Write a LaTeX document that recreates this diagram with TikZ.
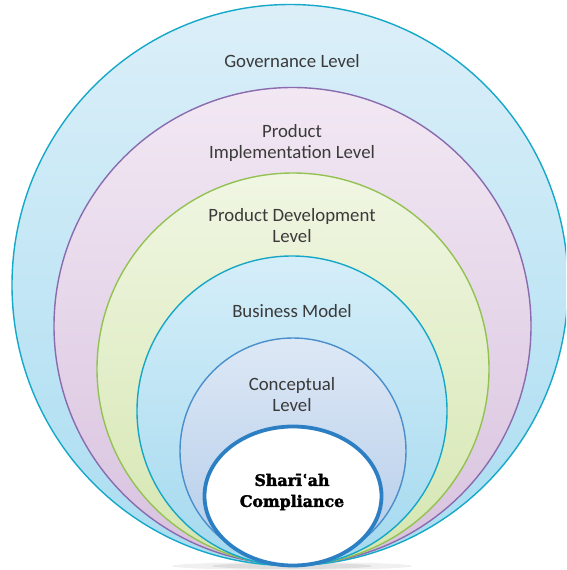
\documentclass[tikz,border=0pt]{standalone}
\usepackage{fontspec}
\setmainfont{Carlito}
\newfontfamily\shfont{DejaVu Serif}[BoldFeatures={FakeBold=2.2}]
\usetikzlibrary{shapes.geometric}
\definecolor{txtgray}{HTML}{3A3A3A}
\definecolor{outline1}{HTML}{16A8C8}
\definecolor{fill1t}{HTML}{DCEFF9}
\definecolor{fill1b}{HTML}{A9DDF1}
\definecolor{outline2}{HTML}{8A6BAE}
\definecolor{fill2t}{HTML}{F2E8F3}
\definecolor{fill2b}{HTML}{D8C2DF}
\definecolor{outline3}{HTML}{93C253}
\definecolor{fill3t}{HTML}{F0F6E3}
\definecolor{fill3b}{HTML}{D5E6B0}
\definecolor{outline4}{HTML}{17A7C6}
\definecolor{fill4t}{HTML}{D5EEF9}
\definecolor{fill4b}{HTML}{A4D9EF}
\definecolor{outline5}{HTML}{4A8FCB}
\definecolor{fill5t}{HTML}{DDE8F5}
\definecolor{fill5b}{HTML}{B3CCEA}
\definecolor{outline6}{HTML}{2D7FC4}
\begin{document}
\begin{tikzpicture}[x=1pt,y=-1pt,
  ring/.style={ellipse,inner sep=0pt,outer sep=0pt,line width=1.4pt},
  lbl/.style={text=txtgray,font=\fontsize{18.8}{21}\selectfont,align=center,inner sep=0pt},
  shlbl/.style={text=black,font=\shfont\bfseries\fontsize{15.8}{21}\selectfont,align=center,inner sep=0pt}]
\useasboundingbox (0,0) rectangle (566,570);
\clip (0,0) rectangle (566,570);
\fill[white] (0,0) rectangle (566,570);
% soft shadow under the rings
\fill[black,opacity=0.06] (292,566) ellipse (120pt and 4pt);
\fill[black,opacity=0.08] (292,566) ellipse (80pt and 3pt);
\node[ring,draw=outline1,top color=fill1t,bottom color=fill1b,minimum width=556pt,minimum height=561pt] (gov) at (290,285) {};
\node[ring,draw=outline2,top color=fill2t,bottom color=fill2b,minimum width=477pt,minimum height=477pt] (impl) at (292.5,326) {};
\node[ring,draw=outline3,top color=fill3t,bottom color=fill3b,minimum width=392pt,minimum height=392pt] (dev) at (293,369) {};
\node[ring,draw=outline4,top color=fill4t,bottom color=fill4b,minimum width=310pt,minimum height=310pt] (bus) at (292,411) {};
\node[ring,draw=outline5,top color=fill5t,bottom color=fill5b,minimum width=226pt,minimum height=226pt] (con) at (293,451) {};
\node[ring,draw=outline6,fill=white,line width=3.8pt,minimum width=177pt,minimum height=139pt] (sha) at (293,496) {};
\node[lbl] (tgov) at (292,61) {Governance Level};
\node[lbl] (timpl) at (292,143) {Product\\Implementation Level};
\node[lbl] (tdev) at (292,226) {Product Development\\Level};
\node[lbl] (tbus) at (292,311) {Business Model};
\node[lbl] (tcon) at (292,395) {Conceptual\\Level};
\node[shlbl] (tsha) at (292,492) {Sharīʿah\\Compliance};
\end{tikzpicture}
\end{document}
